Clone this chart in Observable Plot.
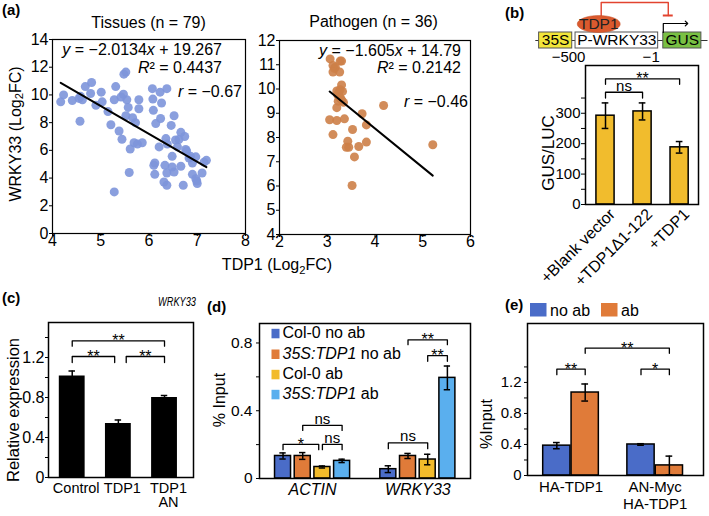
<!DOCTYPE html>
<html><head><meta charset="utf-8">
<script src="https://cdn.jsdelivr.net/npm/d3@7"></script>
<script src="https://cdn.jsdelivr.net/npm/@observablehq/plot@0.6"></script>
<style>
body{margin:0;background:#fff;}
#fig{position:relative;width:709px;height:516px;background:#fff;overflow:hidden;}
#fig > div{position:absolute;}
#fig svg{overflow:visible;}
</style></head><body><div id="fig"></div>
<script>
// ---------------- DATA ----------------
// (a) scatter: tissues
const tissueTDP1 = [4.17,4.23,4.41,4.55,4.58,4.62,4.57,4.68,4.79,4.81,4.90,5.01,5.03,5.15,5.21,5.28,5.31,5.38,5.44,5.47,5.48,5.52,5.54,5.57,5.52,5.66,5.72,5.69,5.61,5.59,5.79,5.79,5.76,5.86,5.28,5.42,
  6.07,6.23,6.37,6.08,6.26,6.09,6.24,6.46,6.14,6.52,6.66,6.74,6.62,6.35,6.38,6.21,6.59,6.76,6.86,6.97,6.48,7.19,6.12,6.10,6.33,6.48,6.66,6.90,6.12,6.37,6.52,6.90,7.10,6.99,7.00,6.31,6.37,6.71,6.78,6.83,7.14,6.55,6.97];
const tissueWRKY33 = [9.5,10.0,9.6,9.75,9.9,9.65,8.1,10.6,10.1,10.9,9.25,10.2,9.5,8.8,7.85,9.65,10.6,7.4,6.8,10.05,11.5,11.65,9.65,9.1,8.5,8.35,8.0,6.55,6.1,4.4,9.65,9.0,6.45,6.55,3.0,9.85,
  10.45,10.2,10.45,9.7,9.42,8.89,8.3,7.8,7.93,8.5,7.3,7.0,6.78,6.85,6.45,6.25,6.25,6.06,5.57,5.53,5.57,5.28,5.09,4.92,4.92,4.80,4.85,5.09,4.27,4.37,4.44,4.27,4.37,3.79,3.60,3.72,3.48,3.48,5.95,5.45,5.15,6.75,3.95];
const tissueFit = {slope: -2.0134, intercept: 19.267, r2: "0.4437", r: "−0.67"};
// (a) scatter: pathogen
const pathogenTDP1 = [3.06,3.12,3.15,3.17,3.27,3.30,3.12,3.26,3.30,3.20,3.24,3.27,3.22,3.26,3.30,3.34,3.20,3.05,3.20,3.36,3.12,3.53,3.73,3.82,4.18,3.43,3.40,3.45,3.66,3.82,3.57,3.52,5.21,3.28,3.23,3.32];
const pathogenWRKY33 = [11.24,10.97,10.85,10.9,11.15,11.15,10.7,10.7,10.17,9.92,9.85,9.97,9.75,9.65,9.55,9.45,9.23,8.73,8.70,8.77,8.12,8.33,8.98,8.52,9.32,7.85,7.6,7.6,7.63,7.81,7.2,6.02,7.70,9.6,9.5,9.9];
const pathogenFit = {slope: -1.605, intercept: 14.79, r2: "0.2142", r: "−0.46"};

// (b) GUS/LUC
const gusCategories = ["+Blank vector", "+TDP1Δ1-122", "+TDP1"];
const gusMeans = [292, 306, 188];
const gusErrors = [42, 28, 19];
const gusBrackets = [
  {from: 0, to: 1, top: 369, bottom: 350, label: "ns"},
  {from: 0, to: 2, top: 413, bottom: 395, label: "**"}
];
// (b) construct schematic (bp coordinates)
const constructParts = [
  {label: "35S", start: -720, end: -520, fill: "#f2e63a"},
  {label: "P-WRKY33", start: -500, end: -1, fill: "#ffffff"},
  {label: "GUS", start: 30, end: 260, fill: "#79c043"}
];
const constructSpan = [-740, 300];
const tdp1Site = [-360];
const repressionPath = [[-345, 16], [-345, 2], [60, 2], [60, 15]];
const repressionBar = [30, 90];
const tssArrow = [[30, 32], [30, 23], [170, 23]];
const coordLabels = [{pos: -500, text: "−500"}, {pos: -1, text: "−1"}];

// (c) relative expression
const exprCategories = ["Control", "TDP1", "TDP1\nAN"];
const exprMeans = [1.015, 0.54, 0.80];
const exprErrors = [0.05, 0.035, 0.02];
const exprBrackets = [
  {from: 0, to: 2, top: 1.366, bottom: 1.313, label: "**"},
  {from: 0, to: 0.92, top: 1.21, bottom: 1.15, label: "**"},
  {from: 1.17, to: 2, top: 1.21, bottom: 1.15, label: "**"}
];

// (d) ChIP
const chipGenes = ["ACTIN", "WRKY33"];
const chipSeries = ["Col-0 no ab", "35S:TDP1 no ab", "Col-0 ab", "35S:TDP1 ab"];
const chipColors = ["#4a6cc8", "#e07b39", "#f2bb2b", "#5aafee"];
const chipMeans = [[0.133, 0.133, 0.068, 0.104], [0.055, 0.133, 0.112, 0.594]];
const chipErrors = [[0.018, 0.02, 0.006, 0.01], [0.02, 0.015, 0.031, 0.07]];
const chipBrackets = [
  {from: [0, 0], to: [0, 2], trimTo: -0.035, top: 0.202, bottom: 0.17, label: "*"},
  {from: [0, 2], to: [0, 3], top: 0.202, bottom: 0.17, label: "ns"},
  {from: [0, 1], to: [0, 3], top: 0.314, bottom: 0.284, label: "ns"},
  {from: [1, 0], to: [1, 2], top: 0.21, bottom: 0.176, label: "ns"},
  {from: [1, 1], to: [1, 3], top: 0.818, bottom: 0.79, label: "**"},
  {from: [1, 2], to: [1, 3], top: 0.725, bottom: 0.692, label: "**"}
];

// (e) HA ChIP
const haGroups = ["HA-TDP1", "AN-Myc\nHA-TDP1"];
const haSeries = ["no ab", "ab"];
const haColors = ["#4a6cc8", "#e07b39"];
const haMeans = [[0.385, 1.07], [0.40, 0.13]];
const haErrors = [[0.04, 0.11], [0.01, 0.12]];
const haBrackets = [
  {from: [0, 0], to: [0, 1], top: 1.372, bottom: 1.30, label: "**"},
  {from: [1, 0], to: [1, 1], top: 1.372, bottom: 1.30, label: "*"},
  {from: [0, 1], to: [1, 1], top: 1.643, bottom: 1.575, label: "**"}
];

// ---------------- HELPERS ----------------
const FONT = '"Liberation Sans", Arial, Helvetica, sans-serif';
const fig = document.getElementById("fig");
function place(el, left, top) {
  const d = document.createElement("div");
  d.style.left = left + "px"; d.style.top = top + "px";
  d.appendChild(el); fig.appendChild(d);
}
const baseStyle = (size) => ({background: "transparent", fontFamily: FONT, fontSize: size + "px", color: "black", overflow: "visible"});

function bracketMarks(brackets, pos, fontSize) {
  const pts = [];
  brackets.forEach((b, i) => {
    const x1 = pos(b.from) + (b.trimFrom || 0), x2 = pos(b.to) + (b.trimTo || 0);
    b._x1 = x1; b._x2 = x2;
    pts.push({id: i, x: x1, y: b.bottom}, {id: i, x: x1, y: b.top}, {id: i, x: x2, y: b.top}, {id: i, x: x2, y: b.bottom});
  });
  const stars = brackets.filter(b => b.label.startsWith("*"));
  const words = brackets.filter(b => !b.label.startsWith("*"));
  return [
    Plot.line(pts, {x: "x", y: "y", z: "id", stroke: "black", strokeWidth: 1.3}),
    Plot.text(stars, {x: b => (b._x1 + b._x2) / 2, y: "top", text: "label", lineAnchor: "bottom", dy: 5.5, fontSize: fontSize + 1}),
    Plot.text(words, {x: b => (b._x1 + b._x2) / 2, y: "top", text: "label", lineAnchor: "bottom", dy: -1.5, fontSize})
  ];
}
function errorMarks(rows, capHalf) {
  return [
    Plot.ruleX(rows, {x: "x", y1: d => d.v - d.e, y2: d => d.v + d.e, stroke: "black", strokeWidth: 1.5}),
    Plot.ruleY(rows, {y: d => d.v + d.e, x1: d => d.x - capHalf, x2: d => d.x + capHalf, stroke: "black", strokeWidth: 1.5}),
    Plot.ruleY(rows, {y: d => d.v - d.e, x1: d => d.x - capHalf, x2: d => d.x + capHalf, stroke: "black", strokeWidth: 1.5})
  ];
}

// ---------------- (a) Tissues / Pathogen ----------------
function scatter(xs, ys, fit, opts) {
  const pts = xs.map((x, i) => ({tdp1: x, wrky33: ys[i]}));
  const [lo, hi] = d3.extent(xs);
  const line = [lo, hi].map(x => ({tdp1: x, wrky33: fit.slope * x + fit.intercept}));
  return Plot.plot({
    width: opts.width, height: 290,
    marginTop: opts.mt, marginRight: opts.mr, marginBottom: opts.mb, marginLeft: opts.ml,
    style: baseStyle(16),
    x: {domain: opts.xd}, y: {domain: opts.yd},
    marks: [
      Plot.frame({stroke: "black", strokeWidth: 1.2}),
      Plot.axisY({ticks: opts.yt, tickFormat: d => String(d), tickSize: 3, tickPadding: 1, label: null}),
      Plot.axisX({ticks: opts.xt, tickFormat: d => String(d), tickSize: 3, tickPadding: -1.5, label: null}),
      Plot.dot(pts, {x: "tdp1", y: "wrky33", r: 4.5, fill: opts.color, fillOpacity: 0.9}),
      Plot.line(line, {x: "tdp1", y: "wrky33", stroke: "black", strokeWidth: 2})
    ]
  });
}
place(scatter(tissueTDP1, tissueWRKY33, tissueFit, {width: 252, mt: 39, mr: 7, mb: 57, ml: 52, xd: [4, 8], yd: [0, 14], xt: [4,5,6,7,8], yt: d3.range(0, 15, 2), color: "#7d95da"}), 0, 0);
place(scatter(pathogenTDP1, pathogenWRKY33, pathogenFit, {width: 225, mt: 40, mr: 5, mb: 56, ml: 29, xd: [2, 6], yd: [4, 12], xt: [2,3,4,5,6], yt: d3.range(4, 13, 1), color: "#cd8048"}), 250, 0);

// ---------------- (b) schematic ----------------
const ellipseSymbol = {draw(ctx) {
  const rx = 21.5, ry = 8.5, kx = rx * 0.5523, ky = ry * 0.5523;
  ctx.moveTo(rx, 0);
  ctx.bezierCurveTo(rx, ky, kx, ry, 0, ry);
  ctx.bezierCurveTo(-kx, ry, -rx, ky, -rx, 0);
  ctx.bezierCurveTo(-rx, -ky, -kx, -ry, 0, -ry);
  ctx.bezierCurveTo(kx, -ry, rx, -ky, rx, 0);
  ctx.closePath();
}};
place(Plot.plot({
  width: 179, height: 64, margin: 0,
  style: baseStyle(15.5),
  x: {domain: [-772, 309], axis: null},
  y: {domain: [0, 64], range: [0, 64], axis: null},
  marks: [
    Plot.ruleY([40], {x1: constructSpan[0], x2: constructSpan[1], stroke: "#333", strokeWidth: 1.2}),
    Plot.rect(constructParts, {x1: "start", x2: "end", y1: 32, y2: 48, fill: "fill", stroke: "#555", strokeWidth: 1}),
    Plot.text(constructParts, {x: d => (d.start + d.end) / 2, y: 40, text: "label", fontSize: 15.5}),
    Plot.line(repressionPath, {x: d => d[0], y: d => d[1], stroke: "#e2432f", strokeWidth: 1.4}),
    Plot.ruleY([15], {x1: repressionBar[0], x2: repressionBar[1], stroke: "#e2432f", strokeWidth: 2}),
    Plot.line(tssArrow, {x: d => d[0], y: d => d[1], stroke: "black", strokeWidth: 1.2, markerEnd: "arrow"}),
    Plot.dot(tdp1Site, {x: d => d, y: 23.5, symbol: ellipseSymbol, r: 10, fill: "#da5a2e", stroke: "#c04a22", strokeWidth: 0.5}),
    Plot.text(tdp1Site, {x: d => d, y: 24, text: () => "TDP1", fontSize: 15.5, fill: "#222"}),
    Plot.text(coordLabels, {x: "pos", y: 61, text: "text", lineAnchor: "bottom", dx: -7, fontSize: 15})
  ]
}), 530, 0);

// ---------------- (b) bars ----------------
{
  const rows = gusCategories.map((c, i) => ({x: i, v: gusMeans[i], e: gusErrors[i]}));
  place(Plot.plot({
    width: 179, height: 240, marginTop: 5, marginRight: 11, marginBottom: 96, marginLeft: 55,
    style: baseStyle(15),
    x: {domain: [-0.54, 2.51]}, y: {domain: [0, 457]},
    marks: [
      Plot.rectY(rows, {x1: d => d.x - 0.245, x2: d => d.x + 0.245, y: "v", fill: "#f1bc2d", stroke: "black", strokeWidth: 1.5}),
      ...errorMarks(rows, 0.09),
      ...bracketMarks(gusBrackets, i => i, 15),
      Plot.frame({stroke: "black", strokeWidth: 1.5}),
      Plot.axisY({ticks: d3.range(0, 351, 50), tickFormat: d => d % 100 === 0 ? d : "", tickSize: 4, tickPadding: 1, label: null}),
      Plot.axisX({ticks: [0, 1, 2], tickFormat: i => gusCategories[i], tickRotate: -45, tickSize: 0, tickPadding: 6, dx: 7, dy: 1, fontSize: 16, label: null})
    ]
  }), 530, 60);
}

// ---------------- (c) ----------------
{
  const rows = exprCategories.map((c, i) => ({x: i, v: exprMeans[i], e: exprErrors[i]}));
  place(Plot.plot({
    width: 200, height: 226, marginTop: 32, marginRight: 7, marginBottom: 39, marginLeft: 48,
    style: baseStyle(16),
    x: {domain: [-0.514, 2.628]}, y: {domain: [0, 1.55]},
    marks: [
      Plot.rectY(rows, {x1: d => d.x - 0.28, x2: d => d.x + 0.28, y: "v", fill: "black"}),
      ...errorMarks(rows, 0.07),
      ...bracketMarks(exprBrackets, i => i, 15),
      Plot.frame({stroke: "black", strokeWidth: 1.5}),
      Plot.axisY({ticks: d3.range(0, 1.41, 0.2), tickFormat: d => Math.round(d * 10) % 4 === 0 ? (d === 0 ? "0" : d.toFixed(1)) : "", tickSize: 3, tickPadding: 1, label: null}),
      Plot.axisX({ticks: [0, 1, 2], tickFormat: i => exprCategories[i], tickSize: 0, tickPadding: 5, dx: 4, lineHeight: 1.0, fontSize: 14.5, label: null})
    ]
  }), 0, 290);
}

// ---------------- grouped bars helper ----------------
function grouped(groups, series, colors, means, errors, step, width) {
  const rows = [];
  groups.forEach((g, gi) => series.forEach((s, si) => rows.push({
    group: g, series: s, fill: colors[si], x: gi + (si - (series.length - 1) / 2) * step,
    v: means[gi][si], e: errors[gi][si], w: width
  })));
  return rows;
}

// ---------------- (d) ----------------
{
  const step = 0.187, w = 0.152;
  const rows = grouped(chipGenes, chipSeries, chipColors, chipMeans, chipErrors, step, w);
  const pos = ([g, s]) => g + (s - (chipSeries.length - 1) / 2) * step;
  place(Plot.plot({
    width: 270, height: 226, marginTop: 33, marginRight: 5, marginBottom: 38, marginLeft: 54,
    style: baseStyle(15.5),
    x: {domain: [-0.504, 1.5]}, y: {domain: [0, 0.915]},
    marks: [
      Plot.rectY(rows, {x1: d => d.x - d.w / 2, x2: d => d.x + d.w / 2, y: "v", fill: "fill", stroke: "black", strokeWidth: 1.5}),
      ...errorMarks(rows, 0.03),
      ...bracketMarks(chipBrackets, pos, 15),
      Plot.frame({stroke: "black", strokeWidth: 1.5}),
      Plot.axisY({ticks: d3.range(0, 0.81, 0.2), tickFormat: d => Math.round(d * 10) % 4 === 0 ? (d === 0 ? "0" : d.toFixed(1)) : "", tickSize: 3, tickPadding: 4, label: null}),
      Plot.axisX({ticks: [0, 1], tickFormat: i => chipGenes[i], tickSize: 0, tickPadding: 5, fontSize: 16, fontStyle: "italic", label: null})
    ]
  }), 205, 290);
}

// ---------------- (e) ----------------
{
  const step = 0.337, w = 0.324;
  const rows = grouped(haGroups, haSeries, haColors, haMeans, haErrors, step, w);
  const pos = ([g, s]) => g + (s - (haSeries.length - 1) / 2) * step;
  place(Plot.plot({
    width: 234, height: 226, marginTop: 33, marginRight: 6, marginBottom: 41, marginLeft: 52,
    style: baseStyle(15),
    x: {domain: [-0.517, 1.574]}, y: {domain: [0, 1.96]},
    marks: [
      Plot.rectY(rows, {x1: d => d.x - d.w / 2, x2: d => d.x + d.w / 2, y: "v", fill: "fill", stroke: "black", strokeWidth: 1.5}),
      ...errorMarks(rows, 0.04),
      ...bracketMarks(haBrackets, pos, 15),
      Plot.frame({stroke: "black", strokeWidth: 1.5}),
      Plot.axisY({ticks: d3.range(0, 1.41, 0.2), tickFormat: d => Math.round(d * 10) % 4 === 0 ? (d === 0 ? "0" : d.toFixed(1)) : "", tickSize: 3, tickPadding: 3, label: null}),
      Plot.axisX({ticks: [0, 1], tickFormat: i => haGroups[i], tickSize: 0, tickPadding: 5, lineHeight: 1.1, label: null})
    ]
  }), 475, 290);
}

// ---------------- text overlay ----------------
const ov = d3.select(fig).append("div").style("left", "0px").style("top", "0px")
  .append("svg").attr("width", 709).attr("height", 516).style("pointer-events", "none")
  .attr("font-family", FONT);
function txt(x, y, parts, o = {}) {
  const size = o.size || 16;
  const t = ov.append("text").attr("x", x).attr("y", y).attr("font-size", size)
    .attr("text-anchor", o.anchor || "start").attr("fill", "black");
  if (o.weight) t.attr("font-weight", o.weight);
  if (o.italic) t.attr("font-style", "italic");
  if (o.length) t.attr("textLength", o.length).attr("lengthAdjust", "spacingAndGlyphs");
  if (o.rotate) t.attr("transform", `rotate(${o.rotate},${x},${y})`).attr("dominant-baseline", "central");
  let shift = 0;
  for (const p of (Array.isArray(parts) ? parts : [parts])) {
    const q = typeof p === "string" ? {t: p} : p;
    const s = t.append("tspan").text(q.t);
    if (q.i) s.attr("font-style", "italic");
    if (q.sub) { s.attr("font-size", size * 0.7).attr("dy", 4 - shift); shift = 4; }
    else if (shift) { s.attr("dy", -shift); shift = 0; }
  }
  return t;
}
// panel letters
txt(2, 15, "(a)", {weight: "bold", size: 15});
txt(505, 18, "(b)", {weight: "bold", size: 15});
txt(2, 303, "(c)", {weight: "bold", size: 15});
txt(207, 312, "(d)", {weight: "bold", size: 15});
txt(505, 310, "(e)", {weight: "bold", size: 15});
// (a) titles, equations, labels
txt(148.5, 28, "Tissues (n = 79)", {anchor: "middle"});
txt(373.5, 26.5, "Pathogen (n = 36)", {anchor: "middle"});
txt(222, 55, [{t: "y", i: 1}, " = −2.0134", {t: "x", i: 1}, " + 19.267"], {anchor: "end"});
txt(222, 73, [{t: "R", i: 1}, "² = " + tissueFit.r2], {anchor: "end"});
txt(242, 97, [{t: "r", i: 1}, " = " + tissueFit.r], {anchor: "end"});
txt(461, 56, [{t: "y", i: 1}, " = −1.605", {t: "x", i: 1}, " + 14.79"], {anchor: "end"});
txt(461, 72.5, [{t: "R", i: 1}, "² = " + pathogenFit.r2], {anchor: "end"});
txt(468, 107, [{t: "r", i: 1}, " = " + pathogenFit.r], {anchor: "end"});
txt(15, 134, ["WRKY33  (Log", {t: "2", sub: 1}, "FC)"], {anchor: "middle", rotate: -90});
txt(277, 270, ["TDP1  (Log", {t: "2", sub: 1}, "FC)"], {anchor: "middle"});
// (b)
txt(548, 153, "GUS/LUC", {anchor: "middle", rotate: -90, size: 17});
// (c)
txt(196, 306, "WRKY33", {anchor: "end", italic: true, size: 12.5, length: 38});
txt(13, 410, "Relative expression", {anchor: "middle", rotate: -90, size: 16.5});
// (d)
txt(219, 400, "% Input", {anchor: "middle", rotate: -90});
const dRows = [338.3, 359, 379.3, 399.3];
chipSeries.forEach((s, i) => {
  ov.append("rect").attr("x", 271.5).attr("y", dRows[i] - 9.5).attr("width", 8).attr("height", 9.5).attr("fill", chipColors[i]);
  const parts = s.startsWith("35S:TDP1") ? [{t: "35S:TDP1", i: 1}, s.slice(8)] : [s];
  txt(282.5, dRows[i], parts, {size: 16});
});
// (e)
txt(486, 424, "%Input", {anchor: "middle", rotate: -90});
haSeries.forEach((s, i) => {
  const x = [530, 601][i];
  ov.append("rect").attr("x", x).attr("y", 303).attr("width", 16.5).attr("height", 13.5).attr("fill", haColors[i]);
  txt(x + 20, 315.5, s, {size: 16});
});
</script></body></html>
